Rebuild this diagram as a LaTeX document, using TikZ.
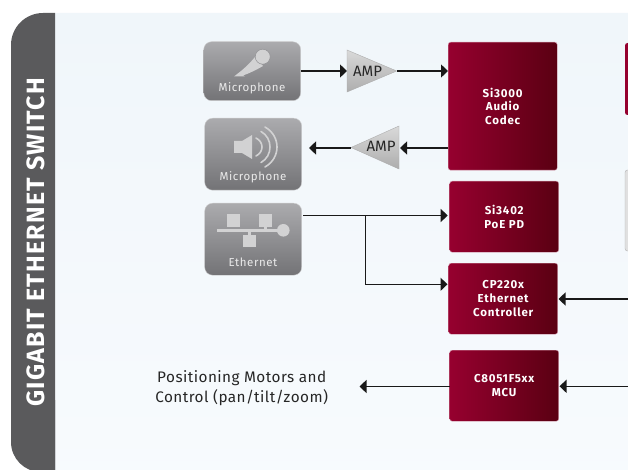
\documentclass[tikz,border=0pt]{standalone}
\usepackage{fontspec}
\setmainfont{Fira Sans}
\newfontfamily\wide[LetterSpace=5]{Fira Sans}
\newfontfamily\semiwide[LetterSpace=3]{Fira Sans}
\newfontfamily\wider[LetterSpace=7]{Fira Sans}
\usetikzlibrary{arrows.meta,shapes.geometric}
\definecolor{panelA}{HTML}{F0F6FA}
\definecolor{panelB}{HTML}{F8FBFE}
\definecolor{band}{HTML}{5A5A5C}
\definecolor{redL}{HTML}{96002F}
\definecolor{redR}{HTML}{5A0012}
\definecolor{grayT}{HTML}{ABABAE}
\definecolor{grayB}{HTML}{737376}
\definecolor{iconc}{HTML}{D2D2D3}
\tikzset{
  chip/.style={rectangle,rounded corners=2.5pt,left color=redL,right color=redR,draw=redL!40!white,line width=.4pt,text=white,font=\wider\fontsize{11.5}{13.7}\selectfont\bfseries,align=center,inner sep=0pt,anchor=north west},
  dev/.style={rectangle,rounded corners=8pt,top color=grayT,bottom color=grayB,draw=grayT!60!white,line width=.4pt,inner sep=0pt,anchor=north west},
  devlabel/.style={text=white!92!black,font=\wide\fontsize{11.5}{13}\selectfont},
  wire/.style={line width=1.3pt,draw=black!90},
  tip/.style={-{Triangle[length=7pt,width=13pt]}},
  amp/.style={top color=black!15,bottom color=black!32,draw=black!32,line width=.4pt},
  amptext/.style={font=\fontsize{15}{17}\selectfont,text=black!85,inner sep=0pt},
  icon/.style={fill=iconc,draw=none},
  iconarc/.style={draw=iconc,line width=1.6pt,line cap=round},
}
\begin{document}
\begin{tikzpicture}[x=1pt,y=-1pt]
\useasboundingbox (0,0) rectangle (628,470);
\clip (0,0) rectangle (628,470);
\fill[white] (0,0) rectangle (628,470);
% panel
\path[top color=panelA,bottom color=panelB,rounded corners=30pt] (30,13) rectangle (660,510);
% side band
\begin{scope}
\clip (0,0) rectangle (55,470);
\fill[band,rounded corners=32pt] (11,13) rectangle (120,500);
\end{scope}
\begin{scope}
\clip (0,400) rectangle (55,470);
\fill[white] (0,400) rectangle (55,470);
\fill[band,rounded corners=30pt] (11,300) rectangle (120,472);
\end{scope}
\node[rotate=90,text=white,font=\wide\fontsize{25}{28}\selectfont\bfseries] (title) at (35.5,242.5) {GIGABIT ETHERNET SWITCH};
% cut-off right boxes
\path[left color=redL,right color=redL!85!redR,rounded corners=2.5pt] (625,43) rectangle (632,115);
\path[fill=black!12,draw=black!30,line width=.4pt,rounded corners=2.5pt] (625,170) rectangle (632,251);
% devices
\node[dev,minimum width=97pt,minimum height=59pt] (mic) at (203.5,41.5) {};
\node[dev,minimum width=97pt,minimum height=72pt] (spk) at (204.5,118) {};
\node[dev,minimum width=97pt,minimum height=72pt] (eth) at (204.5,203) {};
\node[devlabel] (micl) at (252,88) {Microphone};
\node[devlabel] (spkl) at (253,177) {Microphone};
\node[devlabel] (ethl) at (253,262) {Ethernet};
% mic icon
\fill[icon] (255,57) -- (263,66) .. controls (256,70) and (250,73) .. (243,75.5) -- (245,76.5) -- (234,76.5) -- (236.5,74.5) .. controls (244,69) and (250,63) .. (255,57) -- cycle;
\fill[icon,draw=grayT!85!black,line width=.5pt] (262.7,56.7) circle[radius=7.5pt];
% speaker icon
\fill[icon] (234,141) -- (242,141) -- (252,135) -- (252,159) -- (242,153) -- (234,153) -- cycle;
\draw[iconarc] (256,138) .. controls (264,142) and (264,152) .. (256,156);
\draw[iconarc] (261,131.5) .. controls (273,138) and (273,156) .. (261,162.5);
\draw[iconarc] (265,127) .. controls (281,136) and (281,158) .. (265,167);
% ethernet icon
\fill[icon] (227,214.3) rectangle (240,226.7);
\fill[icon] (259,214.3) rectangle (272,226.7);
\fill[icon] (243.3,235) rectangle (256.3,247.3);
\fill[icon] (217.3,229.3) rectangle (281,232);
\fill[icon] (263.5,226) rectangle (266.5,230);
\fill[icon] (248,232) rectangle (251,236);
\fill[icon] (283.3,230.3) circle[radius=6.3pt];
% chips
\node[chip,minimum width=109pt,minimum height=128pt] (codec) at (448,42) {Si3000\\Audio\\Codec};
\node[chip,minimum width=109pt,minimum height=71pt] (poe) at (449.5,181) {Si3402\\PoE PD};
\node[chip,minimum width=109pt,minimum height=71pt] (cp) at (448.5,263) {CP220x\\Ethernet\\Controller};
\node[chip,minimum width=109pt,minimum height=71pt] (mcu) at (449.5,350) {C8051F5xx\\MCU};
% amplifiers
\path[amp] (347,50) -- (396.7,71) -- (347,92) -- cycle;
\node[amptext] (amp1) at (367.5,71) {AMP};
\coordinate (amp1in) at (347,71);
\coordinate (amp1out) at (397,71);
\path[amp] (399,126) -- (351,147.5) -- (399,169) -- cycle;
\node[amptext] (amp2) at (381,146.5) {AMP};
\coordinate (amp2in) at (400,148);
\coordinate (amp2out) at (351,148);
% connectors
\draw[wire,tip] (mic.east |- amp1in) -- (amp1in);
\draw[wire,tip] (amp1out) -- (codec.west |- amp1out);
\draw[wire,tip] (codec.west |- amp2in) -- (amp2in);
\coordinate (spkend) at (309,148);
\draw[wire,tip] (amp2out) -- (spkend);
\coordinate (ethout) at (303,215.5);
\coordinate (branch) at (365.7,215.5);
\coordinate (cpleft) at (447.5,284.3);
\coordinate (poeleft) at (447.7,215.5);
\draw[wire,tip] (ethout) -- (poeleft);
\draw[wire,tip] (branch) |- (cpleft);
\coordinate (cpin) at (628,299);
\coordinate (cpright) at (558.5,299);
\coordinate (mcuin) at (628,386.3);
\coordinate (mcuright) at (559.5,386.3);
\draw[wire,tip] (cpin) -- (cpright);
\draw[wire,tip] (mcuin) -- (mcuright);
\node[font=\semiwide\fontsize{15.3}{20}\selectfont,text=black!85,align=center] (motors) at (241.7,388) {Positioning Motors and\\Control (pan/tilt/zoom)};
\coordinate (motorend) at (359.5,386.5);
\draw[wire,tip] (mcu.west |- motorend) -- (motorend);
\end{tikzpicture}
\end{document}
